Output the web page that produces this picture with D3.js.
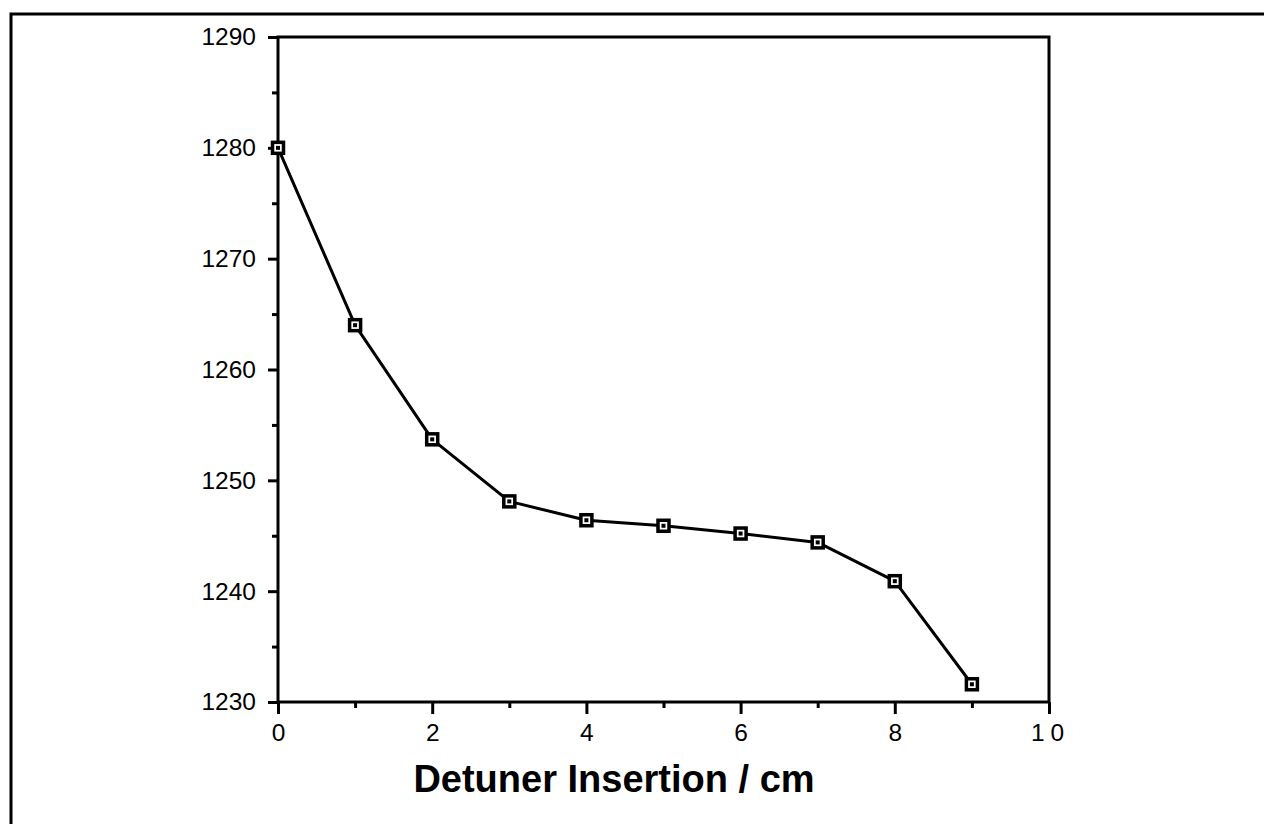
<!DOCTYPE html>
<html>
<head>
<meta charset="utf-8">
<script src="https://cdn.jsdelivr.net/npm/d3@7"></script>
<style>
  html, body { margin: 0; padding: 0; background: #fff; }
  svg { display: block; }
</style>
</head>
<body>
<svg id="chart"></svg>
<script>
// Data
const insertion = [0, 1, 2, 3, 4, 5, 6, 7, 8, 9];
const frequency = [1280, 1264, 1253.7, 1248.1, 1246.4, 1245.9, 1245.2, 1244.4, 1240.9, 1231.6];
const xMajorTicks = [0, 2, 4, 6, 8, 10];
const xMinorTicks = [1, 3, 5, 7, 9];
const yMajorTicks = [1230, 1240, 1250, 1260, 1270, 1280, 1290];
const yMinorTicks = [1235, 1245, 1255, 1265, 1275, 1285];
const xTitle = 'Detuner Insertion / cm';

const width = 1264;
const height = 824;
const marginLeft = 278;
const marginRight = 215;
const marginTop = 37;
const marginBottom = 122;
const font = '"Liberation Sans", Arial, Helvetica, sans-serif';

const x = d3.scaleLinear([0, 10], [marginLeft, width - marginRight]);
const y = d3.scaleLinear([1230, 1290], [height - marginBottom, marginTop]);

const svg = d3.select('#chart')
  .attr('width', width)
  .attr('height', height)
  .attr('viewBox', [0, 0, width, height]);

// Outer frame (cut off at right and bottom)
svg.append('rect')
  .attr('x', 11)
  .attr('y', 14)
  .attr('width', width + 20)
  .attr('height', height + 20)
  .attr('fill', 'none')
  .attr('stroke', '#000')
  .attr('stroke-width', 3);

// X axis: major and minor ticks
svg.append('g')
  .attr('transform', `translate(0,${y(1230)})`)
  .call(d3.axisBottom(x).tickValues(xMajorTicks).tickSize(12).tickPadding(10)
    .tickFormat(d => d))
  .call(g => g.select('.domain').remove())
  .call(g => g.selectAll('.tick line').attr('stroke-width', 3))
  .call(g => g.selectAll('.tick text')
    .attr('font-family', font)
    .attr('font-size', 24.5)
    .attr('fill', '#000')
    .attr('letter-spacing', d => d === 10 ? 6 : 0)
    .attr('dx', d => d === 10 ? 1 : 0));

svg.append('g')
  .attr('transform', `translate(0,${y(1230)})`)
  .call(d3.axisBottom(x).tickValues(xMinorTicks).tickSize(6).tickFormat(''))
  .call(g => g.select('.domain').remove())
  .call(g => g.selectAll('.tick line').attr('stroke-width', 3));

// Y axis: major and minor ticks
svg.append('g')
  .attr('transform', `translate(${x(0)},0)`)
  .call(d3.axisLeft(y).tickValues(yMajorTicks).tickSize(10).tickPadding(12)
    .tickFormat(d => d))
  .call(g => g.select('.domain').remove())
  .call(g => g.selectAll('.tick line').attr('stroke-width', 3))
  .call(g => g.selectAll('.tick text')
    .attr('font-family', font)
    .attr('font-size', 24.5)
    .attr('fill', '#000'));

svg.append('g')
  .attr('transform', `translate(${x(0)},0)`)
  .call(d3.axisLeft(y).tickValues(yMinorTicks).tickSize(6).tickFormat(''))
  .call(g => g.select('.domain').remove())
  .call(g => g.selectAll('.tick line').attr('stroke-width', 3));

// Plot box
svg.append('rect')
  .attr('x', x(0))
  .attr('y', y(1290))
  .attr('width', x(10) - x(0))
  .attr('height', y(1230) - y(1290))
  .attr('fill', 'none')
  .attr('stroke', '#000')
  .attr('stroke-width', 3);

// Line
const line = d3.line()
  .x((d, i) => x(insertion[i]))
  .y(d => y(d));

svg.append('path')
  .datum(frequency)
  .attr('fill', 'none')
  .attr('stroke', '#000')
  .attr('stroke-width', 3)
  .attr('stroke-linejoin', 'round')
  .attr('d', line);

// Square markers with a dot in the middle
const markers = svg.append('g')
  .selectAll('g')
  .data(frequency)
  .join('g')
  .attr('transform', (d, i) => `translate(${x(insertion[i])},${y(d)})`);

markers.append('rect')
  .attr('x', -5.5)
  .attr('y', -5.5)
  .attr('width', 11)
  .attr('height', 11)
  .attr('fill', '#fff')
  .attr('stroke', '#000')
  .attr('stroke-width', 3.5);

markers.append('rect')
  .attr('x', -2)
  .attr('y', -2)
  .attr('width', 4)
  .attr('height', 4)
  .attr('fill', '#000');

// Axis title
svg.append('text')
  .attr('x', 614)
  .attr('y', 792)
  .attr('text-anchor', 'middle')
  .attr('font-family', font)
  .attr('font-size', 38)
  .attr('font-weight', 'bold')
  .attr('fill', '#000')
  .text(xTitle);
</script>
</body>
</html>
